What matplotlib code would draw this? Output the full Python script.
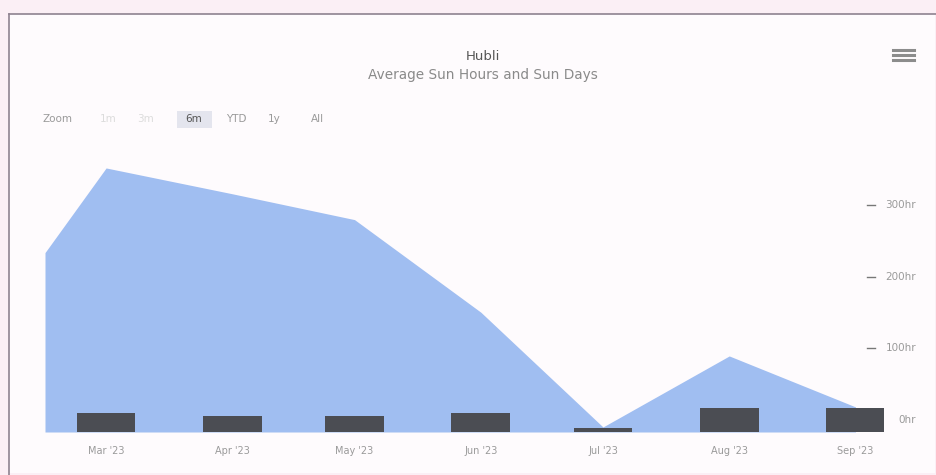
import numpy as np
import matplotlib
matplotlib.use("Agg")
import matplotlib.pyplot as plt
import matplotlib.dates as mdates
from matplotlib.transforms import blended_transform_factory, offset_copy
from matplotlib.patches import Rectangle
from matplotlib.lines import Line2D
import pandas as pd

# --- DATA ---
hour_dates = pd.to_datetime(["2023-02-14", "2023-03-01", "2023-04-01", "2023-05-01",
                             "2023-06-01", "2023-07-01", "2023-08-01", "2023-09-01"])
sun_hours = [250, 368, 332, 296, 167, 7, 106, 35]

day_dates = pd.to_datetime(["2023-03-01", "2023-04-01", "2023-05-01", "2023-06-01",
                            "2023-07-01", "2023-08-01", "2023-09-01"])
sun_days = [24, 20, 20, 24, 5, 30, 30]

hour_ticks = [0, 100, 200, 300]
hour_labels = ["0hr", "100hr", "200hr", "300hr"]
range_buttons = ["1m", "3m", "6m", "YTD", "1y", "All"]

# --- STYLE ---
W, H = 937, 475
AREA_COLOR = "#a0bef1"
BAR_COLOR = "#4b4d53"
TEXT_GRAY = "#9a9a9a"

fig = plt.figure(figsize=(W / 100, H / 100), dpi=100)
fig.patch.set_facecolor("#fbeff5")

def px(x, y):
    return x / W, 1 - y / H

# screenshot frame
fig.patches.append(Rectangle(px(9, 473), (935 - 9) / W, (473 - 14) / H,
                             transform=fig.transFigure, facecolor="#fefbfd",
                             edgecolor="none", zorder=-10))
fig.lines.append(Line2D([9 / W, 937 / W], [1 - 14 / H] * 2, transform=fig.transFigure,
                        color="#8e8290", lw=1.2, zorder=-5))
fig.lines.append(Line2D([9 / W] * 2, [1 - 14 / H, 0], transform=fig.transFigure,
                        color="#8e8290", lw=1.2, zorder=-5))

# plot area
left, right, top, bottom = 45, 884, 145, 432
ax = fig.add_axes([left / W, 1 - bottom / H, (right - left) / W, (bottom - top) / H])
ax.set_facecolor("none")

ax.fill_between(hour_dates, sun_hours, 0, color=AREA_COLOR, lw=0, zorder=1)
ax.set_ylim(0, 400)
ax.set_xlim(pd.Timestamp("2023-02-14"), pd.Timestamp("2023-09-08"))

# right-hand hour labels sit a little above their values, with a small dash beside
ax.set_yticks([])
ytrans = blended_transform_factory(ax.transAxes, ax.transData)
lab_trans = offset_copy(ytrans, fig=fig, x=32 * 0.72, y=12 * 0.72, units="points")
for v, lab in zip(hour_ticks, hour_labels):
    ax.text(1.0, v, lab, transform=lab_trans, ha="right", va="center",
            fontsize=7.5, color=TEXT_GRAY, clip_on=False, zorder=4)
    if v > 0:
        ax.plot([1.0 - 17 / (right - left), 1.0 - 9 / (right - left)], [v + 12 * 400 / 287] * 2,
                transform=ytrans, color="#777777", lw=1, clip_on=False, zorder=3)

ax.xaxis.set_major_locator(mdates.MonthLocator(bymonth=range(3, 10)))
ax.xaxis.set_major_formatter(mdates.DateFormatter("%b '%y"))
ax.tick_params(axis="x", length=0, pad=10, labelsize=7, labelcolor=TEXT_GRAY)

for s in ax.spines.values():
    s.set_visible(False)

# sun days on a hidden axis
ax2 = ax.twinx()
ax2.bar(day_dates, sun_days, width=14.4, color=BAR_COLOR, zorder=2)
ax2.set_ylim(0, 360)
ax2.set_yticks([])
for s in ax2.spines.values():
    s.set_visible(False)

# titles
fig.text(*px(483, 56), "Hubli", ha="center", va="center", fontsize=9.5, color="#555555")
fig.text(*px(483, 75), "Average Sun Hours and Sun Days", ha="center", va="center",
         fontsize=9.8, color="#8a8a8a")

# range selector
fig.text(*px(43, 119), "Zoom", ha="left", va="center", fontsize=7.5, color=TEXT_GRAY)
btn_x = [108, 146, 194, 236, 274, 317]
for name, bx in zip(range_buttons, btn_x):
    faded = name in ("1m", "3m")
    if name == "6m":
        fig.patches.append(Rectangle(px(bx - 17, 128), 35 / W, 17 / H, transform=fig.transFigure,
                                     facecolor="#e4e5ee", edgecolor="none", zorder=1))
    fig.text(*px(bx, 119), name, ha="center", va="center", fontsize=7.5,
             color="#dcdcdc" if faded else "#555555" if name == "6m" else TEXT_GRAY, zorder=2)

# hamburger menu icon
for yy in (50, 55, 60):
    fig.lines.append(Line2D([893 / W, 914 / W], [1 - yy / H] * 2, transform=fig.transFigure,
                            color="#8c8c8c", lw=2.2))

fig.savefig("out.png", dpi=100, facecolor=fig.get_facecolor())
